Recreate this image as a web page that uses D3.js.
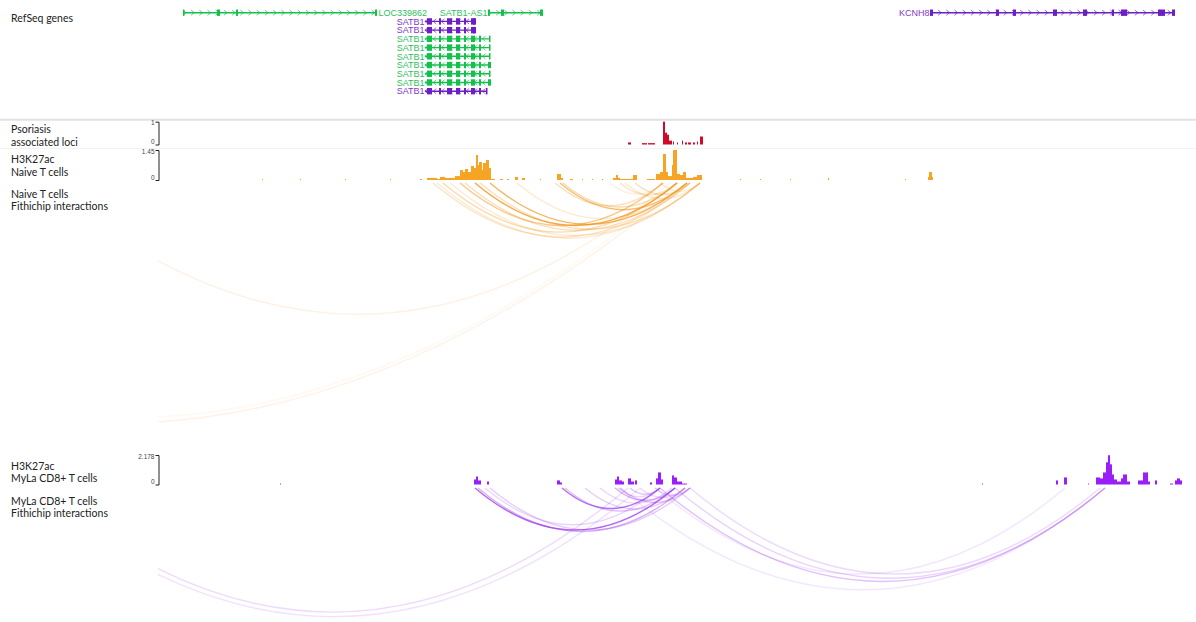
<!DOCTYPE html>
<html>
<head>
<meta charset="utf-8">
<script src="https://cdn.jsdelivr.net/npm/d3@7"></script>
<style>
  body { margin: 0; background: #fff; }
  svg { display: block; }
  .track-label { font-family: Lato, "Noto Sans", sans-serif; font-size: 10.5px; fill: #222; }
  .gene-label { font-family: "Liberation Sans", Arial, sans-serif; font-size: 9px; }
  .scale-axis text { font-family: "Liberation Sans", Arial, sans-serif; font-size: 6.5px; fill: #444; }
  .scale-axis path, .scale-axis line { stroke: #222; stroke-width: 1; }
</style>
</head>
<body>
<svg id="chart" width="1196" height="622"></svg>
<script>
// Genomic window, positions in kb from the window start
const windowKb = [0, 1030];

// RefSeq transcripts
const geneNames   = ["LOC339862", "SATB1-AS1", "KCNH8", "SATB1", "SATB1", "SATB1", "SATB1", "SATB1", "SATB1", "SATB1", "SATB1", "SATB1"];
const geneStarts  = [25, 330, 772, 267, 267, 267, 267, 267, 267, 267, 267, 267];
const geneEnds    = [219, 385, 1017, 318, 318, 332, 332, 332, 333, 332, 333, 329];
const geneStrands = ["+", "+", "+", "-", "-", "-", "-", "-", "-", "-", "-", "-"];
const geneRows    = [0, 0, 0, 1, 2, 3, 4, 5, 6, 7, 8, 9];
const geneKinds   = ["NR", "NR", "NM", "NM", "NM", "NR", "NR", "NR", "NR", "NR", "NR", "NM"];
const satb1Exons  = [[269, 274], [281, 283], [289, 294], [298, 302], [306, 308], [313, 317]];
const geneExons   = [
  [[25, 26], [59, 62], [78, 80], [217, 219]],
  [[330, 332], [343, 346], [382, 385]],
  [[772, 775], [838, 841], [855, 858], [895, 899], [925, 929], [954, 956], [963, 969], [1000, 1007], [1014, 1017]],
  satb1Exons.concat([[315, 318]]),
  satb1Exons.concat([[315, 318]]),
  satb1Exons.concat([[321, 323], [331, 332]]),
  satb1Exons.concat([[321, 323], [331, 332]]),
  satb1Exons.concat([[321, 323], [331, 332]]),
  satb1Exons.concat([[321, 323], [330, 333]]),
  satb1Exons.concat([[321, 323], [331, 332]]),
  satb1Exons.concat([[321, 323], [330, 333]]),
  satb1Exons.concat([[321, 323], [328, 329]])
];

// Psoriasis associated loci: [start kb, end kb, score]
const psoriasisLoci = [
  [470, 473, 0.09], [484, 489, 0.06], [490, 497, 0.06], [505, 507, 1.0], [507, 509, 0.52],
  [509, 511, 0.43], [511, 514, 0.17], [515, 516, 0.13], [519, 520, 0.09], [524, 525, 0.17],
  [527, 529, 0.09], [530, 533, 0.09], [535, 537, 0.09], [539, 540, 0.13], [542, 545, 0.35]
];
const psoriasisMax = 1;

// H3K27ac, naive T cells: [start kb, end kb, signal]
const naiveH3K27ac = [
  [104, 105, 0.05], [142, 143, 0.05], [187, 188, 0.05], [232, 233, 0.05], [262, 264, 0.05],
  [269, 279, 0.1], [279, 282, 0.05], [282, 287, 0.15], [287, 297, 0.1], [297, 302, 0.19],
  [302, 305, 0.48], [305, 307, 0.39], [307, 310, 0.53], [310, 313, 0.39], [313, 316, 0.68],
  [316, 318, 0.58], [318, 320, 1.21], [320, 321, 0.72], [321, 324, 0.87], [324, 325, 0.48],
  [325, 328, 0.82], [328, 331, 0.97], [331, 333, 0.58], [333, 337, 0.05], [342, 345, 0.05],
  [349, 351, 0.05], [357, 360, 0.15], [364, 367, 0.1], [382, 383, 0.05], [399, 403, 0.29],
  [403, 405, 0.1], [412, 415, 0.05], [424, 425, 0.05], [434, 435, 0.05], [444, 445, 0.05],
  [455, 458, 0.1], [458, 460, 0.24], [460, 462, 0.1], [462, 475, 0.05], [475, 479, 0.24],
  [489, 497, 0.05], [498, 502, 0.29], [502, 505, 0.39], [505, 508, 1.26], [508, 510, 0.39],
  [510, 514, 0.19], [514, 515, 0.72], [515, 519, 1.45], [519, 522, 0.29], [522, 525, 0.24],
  [525, 528, 0.39], [528, 535, 0.1], [535, 539, 0.15], [539, 544, 0.24], [582, 583, 0.05],
  [602, 603, 0.05], [632, 633, 0.05], [670, 671, 0.1], [747, 748, 0.05], [770, 771, 0.15],
  [771, 774, 0.39], [774, 775, 0.15]
];
const naiveMax = 1.45;

// H3K27ac, MyLa CD8+ T cells: [start kb, end kb, signal]
const mylaH3K27ac = [
  [122, 123, 0.07], [316, 318, 0.37], [318, 320, 0.59], [320, 323, 0.3], [329, 331, 0.22],
  [399, 402, 0.3], [402, 404, 0.15], [457, 459, 0.37], [459, 461, 0.59], [461, 464, 0.3],
  [464, 466, 0.22], [470, 473, 0.45], [473, 476, 0.22], [477, 479, 0.3], [492, 494, 0.15],
  [498, 500, 0.45], [500, 503, 0.89], [503, 505, 0.37], [514, 516, 0.67], [516, 519, 0.52],
  [519, 524, 0.22], [524, 529, 0.07], [824, 825, 0.07], [898, 900, 0.3], [906, 909, 0.52],
  [930, 931, 0.07], [938, 942, 0.52], [942, 945, 0.45], [945, 948, 0.89], [948, 950, 1.64],
  [950, 952, 2.16], [952, 954, 1.49], [954, 956, 0.74], [956, 959, 0.37], [959, 963, 0.22],
  [963, 965, 0.45], [965, 969, 0.74], [969, 972, 0.22], [980, 985, 0.3], [985, 990, 0.89],
  [990, 992, 0.22], [997, 999, 0.3], [1012, 1015, 0.07], [1017, 1019, 0.3], [1019, 1022, 0.45],
  [1022, 1024, 0.3]
];
const mylaMax = 2.178;

// FitHiChIP loops: [anchor 1 kb, anchor 2 kb, score]
const naiveLoops = [
  [317, 519, 0.8], [332, 529, 0.7], [302, 505, 0.5], [285, 519, 0.35], [275, 532, 0.25],
  [279, 542, 0.2], [292, 542, 0.2], [307, 532, 0.3], [322, 542, 0.3], [402, 529, 0.6],
  [405, 519, 0.35], [397, 505, 0.3], [462, 519, 0.25], [477, 532, 0.3], [467, 542, 0.2],
  [452, 505, 0.15], [359, 529, 0.2], [502, 542, 0.2], [-113, 512, 0.12], [-618, 527, 0.11],
  [-598, 522, 0.06]
];
const mylaLoops = [
  [317, 517, 0.75], [320, 527, 0.4], [332, 532, 0.25], [327, 502, 0.2], [404, 502, 0.7],
  [407, 517, 0.3], [427, 527, 0.25], [457, 517, 0.4], [462, 532, 0.3], [472, 502, 0.3],
  [460, 502, 0.2], [497, 532, 0.25], [482, 527, 0.2], [442, 514, 0.2], [-121, 470, 0.18],
  [-131, 482, 0.14], [502, 947, 0.3], [517, 947, 0.22], [532, 942, 0.18], [462, 947, 0.12],
  [497, 907, 0.12]
];

const svg = d3.select("#chart");
const W = 1196;
const x = d3.scaleLinear().domain(windowKb).range([158, 1188]);
const geneColor  = d3.scaleOrdinal().domain(["NR", "NM"]).range(["#14c04c", "#6c1fc6"]);
const labelColor = d3.scaleOrdinal().domain(["NR", "NM"]).range(["#30c060", "#7f38cc"]);
const arcDepth = d3.scaleLinear().domain([0, 1000]).range([0, 210]);

// Left-hand track titles
const titles = [
  ["RefSeq genes", 21.7],
  ["Psoriasis", 133], ["associated loci", 145.5],
  ["H3K27ac", 162.5], ["Naive T cells", 176],
  ["Naive T cells", 198], ["Fithichip interactions", 210],
  ["H3K27ac", 469.5], ["MyLa CD8+ T cells", 481.5],
  ["MyLa CD8+ T cells", 505], ["Fithichip interactions", 517]
];
svg.selectAll("text.track-label").data(titles).join("text")
  .attr("class", "track-label").attr("x", 11).attr("y", d => d[1]).text(d => d[0]);

// Track separators
svg.append("line").attr("x1", 0).attr("x2", W).attr("y1", 119.8).attr("y2", 119.8)
  .attr("stroke", "#e2e2e2").attr("stroke-width", 2);
svg.append("line").attr("x1", 0).attr("x2", W).attr("y1", 148.5).attr("y2", 148.5)
  .attr("stroke", "#f2f2f2").attr("stroke-width", 1);

// ---- RefSeq gene track ----
const rowY = r => 12.7 + r * 8.72;
const genes = geneNames.map((name, i) => ({
  name, start: geneStarts[i], end: geneEnds[i], strand: geneStrands[i],
  row: geneRows[i], kind: geneKinds[i], exons: geneExons[i]
}));
const geneG = svg.append("g");
genes.forEach(g => {
  const y = rowY(g.row);
  const col = geneColor(g.kind);
  const gg = geneG.append("g");
  gg.append("line").attr("x1", x(g.start)).attr("x2", x(g.end))
    .attr("y1", y).attr("y2", y).attr("stroke", col).attr("stroke-width", 1.4);
  // strand chevrons along the intron line
  const marks = d3.range(g.start + 1.5, g.end - 1, 8.2);
  gg.selectAll("path.chev").data(marks).join("path")
    .attr("d", p => {
      const px = x(p), s = g.strand === "+" ? 1 : -1;
      return `M${px - 1.6 * s},${y - 2.6}L${px + 1.6 * s},${y}L${px - 1.6 * s},${y + 2.6}`;
    })
    .attr("fill", "none").attr("stroke", col).attr("stroke-width", 0.9).attr("opacity", 0.75);
  gg.selectAll("rect").data(g.exons).join("rect")
    .attr("x", e => x(e[0])).attr("width", e => Math.max(1.5, x(e[1]) - x(e[0])))
    .attr("y", y - 3.2).attr("height", 6.4).attr("fill", col);
  const label = gg.append("text").attr("class", "gene-label")
    .attr("fill", labelColor(g.kind)).attr("y", y + 3.2).text(g.name);
  const lw = label.node().getComputedTextLength();
  if (x(g.start) - lw - 1 < x.range()[0]) {
    label.attr("x", x(g.end) + 1.5).attr("text-anchor", "start");
  } else {
    label.attr("x", x(g.start) - 0.5).attr("text-anchor", "end");
  }
});

// ---- bar tracks ----
function barTrack(data, maxVal, top, base, color) {
  const y = d3.scaleLinear().domain([0, maxVal]).range([base, top]);
  const g = svg.append("g");
  g.selectAll("rect").data(data).join("rect")
    .attr("x", d => x(d[0])).attr("width", d => x(d[1]) - x(d[0]))
    .attr("y", d => y(d[2])).attr("height", d => base - y(d[2]))
    .attr("fill", color);
  const ax = d3.axisLeft(y).tickValues([0, maxVal]).tickSizeInner(0).tickSizeOuter(3)
    .tickPadding(4).tickFormat(d => d3.format("~g")(d));
  svg.append("g").attr("class", "scale-axis").attr("transform", `translate(158.5,0)`).call(ax)
    .call(a => a.selectAll(".tick text").attr("dy", (d) => d === 0 ? "-0.1em" : "0.5em"));
}
barTrack(psoriasisLoci, psoriasisMax, 121.7, 144.5, "#cf0b2c");
barTrack(naiveH3K27ac, naiveMax, 150, 180, "#f5a424");
barTrack(mylaH3K27ac, mylaMax, 455, 484.5, "#9a1ef8");

// ---- FitHiChIP arc tracks ----
function arcTrack(loops, base, bottom, color, id) {
  svg.append("clipPath").attr("id", id).append("rect")
    .attr("x", 158).attr("y", base - 2).attr("width", W - 158).attr("height", bottom - base + 2);
  const g = svg.append("g").attr("clip-path", `url(#${id})`);
  g.selectAll("path").data(loops.slice().sort((a, b) => a[2] - b[2])).join("path")
    .attr("d", d => {
      const x1 = x(d[0]), x2 = x(d[1]);
      const depth = arcDepth(d[1] - d[0]);
      return `M${x1},${base}Q${(x1 + x2) / 2},${base + 2 * depth} ${x2},${base}`;
    })
    .attr("fill", "none").attr("stroke", color)
    .attr("stroke-width", 1.4).attr("stroke-opacity", d => d[2]);
}
arcTrack(naiveLoops, 183, 445, "#f29418", "naive-clip");
arcTrack(mylaLoops, 488, 622, "#9a33ec", "myla-clip");
</script>
</body>
</html>
